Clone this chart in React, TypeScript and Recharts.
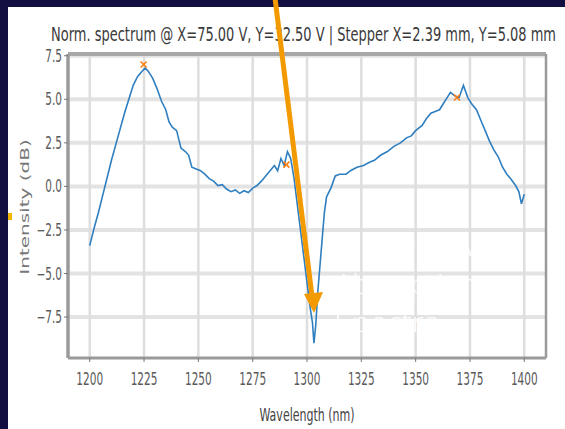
import { ComposedChart, Line, Scatter, XAxis, YAxis, ReferenceLine } from "recharts"

const wavelength = [
  1200, 1202, 1204, 1206, 1208, 1210, 1212, 1214, 1216, 1218, 1220, 1222, 1224, 1225.5, 1227, 1229,
  1231, 1233, 1235, 1236.5, 1238, 1240, 1242, 1244, 1245.5, 1247, 1249, 1251, 1253, 1255, 1257, 1259,
  1261, 1263, 1265, 1267, 1269, 1271, 1273, 1275, 1277, 1279, 1281, 1283, 1285, 1286.5, 1288, 1289.5,
  1291, 1292.5, 1294, 1296, 1298, 1300, 1301.5, 1302.5, 1303.2, 1304, 1305, 1306, 1307, 1308, 1309,
  1311, 1313, 1315, 1318, 1320, 1323, 1326, 1329, 1331, 1334, 1337, 1340, 1343, 1346, 1348, 1350,
  1353, 1355, 1357, 1359, 1361, 1363, 1364.5, 1366, 1368, 1370, 1372, 1374, 1376, 1378, 1380, 1382,
  1384, 1386, 1388, 1390, 1392, 1394, 1396, 1397.5, 1398.7, 1400,
]
const intensity = [
  -3.4, -2.4, -1.5, -0.5, 0.5, 1.5, 2.4, 3.3, 4.2, 5.0, 5.8, 6.3, 6.6, 6.8, 6.6, 6.2,
  5.6, 4.9, 4.4, 3.7, 3.4, 3.2, 2.2, 2.0, 1.8, 1.1, 1.0, 0.9, 0.7, 0.45, 0.3, 0.05,
  0.1, -0.15, -0.3, -0.2, -0.4, -0.25, -0.35, -0.1, 0.05, 0.3, 0.6, 0.9, 1.2, 0.9, 1.6, 1.2,
  2.0, 1.6, 0.5, -1.5, -3.5, -5.5, -7.0, -7.8, -9.0, -8.0, -6.0, -4.5, -3.0, -1.5, -0.6,
  -0.1, 0.6, 0.7, 0.7, 0.9, 1.1, 1.2, 1.4, 1.5, 1.8, 2.0, 2.3, 2.5, 2.8, 2.9, 3.2,
  3.5, 3.9, 4.2, 4.3, 4.4, 4.8, 5.1, 5.4, 5.2, 5.1, 5.8, 5.1, 4.7, 4.4, 3.8, 3.2,
  2.6, 2.1, 1.7, 1.1, 0.7, 0.4, 0.05, -0.3, -1.0, -0.45,
]
const peakWavelength = [1224.8, 1290.5, 1369]
const peakIntensity = [7.0, 1.25, 5.1]
const xTicks = [1200, 1225, 1250, 1275, 1300, 1325, 1350, 1375, 1400]
const yTicks = [-7.5, -5.0, -2.5, 0.0, 2.5, 5.0, 7.5]

const spectrum = wavelength.map((w, i) => ({ w, v: intensity[i] }))
const peaks = peakWavelength.map((w, i) => ({ w, v: peakIntensity[i] }))

const FONT = "DejaVu Sans"

const XTick = ({ x, y, payload }: any) => (
  <g transform={`translate(${x},${y})`}>
    <text transform="scale(0.62,1)" y={21} textAnchor="middle" fontSize={17} fontFamily={FONT} fill="#5a5a5a">
      {payload.value}
    </text>
  </g>
)

const YTick = ({ x, y, payload }: any) => (
  <g transform={`translate(${x},${y})`}>
    <text transform="scale(0.62,1)" y={6} textAnchor="end" fontSize={17} fontFamily={FONT} fill="#5a5a5a">
      {payload.value.toFixed(1).replace("-", "\u2212")}
    </text>
  </g>
)

const Cross = ({ cx, cy }: any) => (
  <g stroke="#ff7f0e" strokeWidth={1.6}>
    <line x1={cx - 3} y1={cy - 3} x2={cx + 3} y2={cy + 3} />
    <line x1={cx - 3} y1={cy + 3} x2={cx + 3} y2={cy - 3} />
  </g>
)

export default function App() {
  return (
    <div style={{ position: "fixed", left: 0, top: 0, width: 565, height: 429, background: "#fff", overflow: "hidden" }}>
      <div style={{ position: "absolute", left: 0, top: 0, width: 8, height: 429, background: "#130f40" }} />
      <div style={{ position: "absolute", left: 0, top: 0, width: 565, height: 7, background: "#130f40" }} />
      <div style={{ position: "absolute", left: 0, top: 0 }}>
        <ComposedChart width={565} height={429} margin={{ top: 54, right: 19, bottom: 0, left: 0 }}>
          <XAxis
            dataKey="w"
            type="number"
            domain={[1190, 1410]}
            ticks={xTicks}
            height={71}
            tick={<XTick />}
            tickSize={4}
            tickMargin={2}
            axisLine={{ stroke: "#9a9a9a", strokeWidth: 3 }}
            tickLine={{ stroke: "#777" }}
          />
          <YAxis
            type="number"
            domain={[-9.85, 7.6]}
            ticks={yTicks}
            width={68}
            tick={<YTick />}
            tickSize={4}
            tickMargin={2}
            axisLine={{ stroke: "#9a9a9a", strokeWidth: 3.5 }}
            tickLine={{ stroke: "#777" }}
          />
          {yTicks.map((t) => (
            <ReferenceLine key={`h${t}`} y={t} stroke="#e3e3e3" strokeWidth={4} />
          ))}
          {xTicks.map((t) => (
            <ReferenceLine key={`v${t}`} x={t} stroke="#dedede" strokeWidth={2.5} />
          ))}
          <ReferenceLine y={7.6} stroke="#a8a8a8" strokeWidth={4} />
          <ReferenceLine x={1410} stroke="#9a9a9a" strokeWidth={2.5} />
          <Line
            data={spectrum}
            dataKey="v"
            type="linear"
            stroke="#2f7fc0"
            strokeWidth={1.6}
            dot={false}
            isAnimationActive={false}
          />
          <Scatter data={peaks} dataKey="v" shape={<Cross />} isAnimationActive={false} />
        </ComposedChart>
      </div>
      <svg width={565} height={429} style={{ position: "absolute", left: 0, top: 0 }}>
        <text x={51} y={41} fontSize={19} fontFamily={FONT} fill="#3a3a3a" textLength={505} lengthAdjust="spacingAndGlyphs">
          Norm. spectrum @ X=75.00 V, Y=32.50 V | Stepper X=2.39 mm, Y=5.08 mm
        </text>
        <g transform="translate(307,421) scale(0.63,1)">
          <text textAnchor="middle" fontSize={17.5} fontFamily={FONT} fill="#444">Wavelength (nm)</text>
        </g>
        <g transform="translate(29,207) rotate(-90) scale(1,0.6)">
          <text textAnchor="middle" fontSize={20} fontFamily={FONT} fill="#777">Intensity (dB)</text>
        </g>
        <g fill="#fff" fontFamily="Open Sans" fontWeight={300} fontSize={27} opacity={0.92}>
          <text x={335} y={256} textLength={143} lengthAdjust="spacingAndGlyphs">Model CW</text>
          <text x={335} y={294} textLength={142} lengthAdjust="spacingAndGlyphs">Absorption</text>
          <text x={335} y={332} textLength={105} lengthAdjust="spacingAndGlyphs">Spectra</text>
        </g>
        <rect x={8} y={213} width={4} height={7} fill="#f5b400" />
        <line x1={275} y1={-2} x2={312} y2={296} stroke="#f39a00" strokeWidth={5} />
        <polygon points="304,294 323,292 314,313" fill="#f39a00" />
      </svg>
    </div>
  )
}
